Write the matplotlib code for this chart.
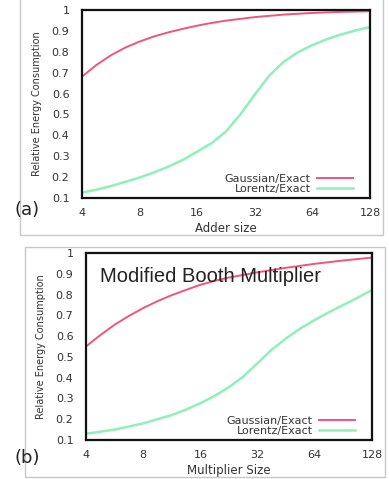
import matplotlib
matplotlib.use("Agg")
import matplotlib.pyplot as plt
from matplotlib.patches import Rectangle

# values, about quarter-octave steps
adder_gauss_x = [4, 4.76, 5.66, 6.73, 8, 9.5, 11.3, 13.5, 16, 19, 22.6, 32, 45.3, 64, 90.5, 128]
adder_gauss = [0.681, 0.737, 0.783, 0.82, 0.849, 0.873, 0.893, 0.91, 0.925, 0.938,
               0.949, 0.966, 0.978, 0.986, 0.991, 0.994]
adder_lorentz_x = [4, 4.76, 5.66, 6.73, 8, 9.5, 11.3, 13.5, 16, 19, 22.6, 26.9, 32,
                   38, 45.3, 53.8, 64, 76, 90.5, 107.6, 128]
adder_lorentz = [0.125, 0.14, 0.157, 0.177, 0.198, 0.222, 0.25, 0.283, 0.322, 0.362,
                 0.418, 0.5, 0.595, 0.685, 0.752, 0.798, 0.832, 0.86, 0.883, 0.902, 0.918]

mult_gauss_x = [4, 4.76, 5.66, 6.73, 8, 9.5, 11.3, 13.5, 16, 19, 22.6, 32, 45.3, 64, 90.5, 128]
mult_gauss = [0.55, 0.605, 0.655, 0.697, 0.735, 0.768, 0.797, 0.823, 0.847, 0.866, 0.882,
              0.907, 0.929, 0.948, 0.964, 0.978]
mult_lorentz_x = [4, 5.66, 8, 11.3, 13.5, 16, 19, 22.6, 26.9, 32, 38, 45.3, 53.8, 64,
                  76, 90.5, 107.6, 128]
mult_lorentz = [0.13, 0.15, 0.18, 0.22, 0.247, 0.277, 0.312, 0.354, 0.405, 0.47,
                0.535, 0.59, 0.637, 0.678, 0.715, 0.75, 0.785, 0.822]

xticks = [4, 8, 16, 32, 64, 128]
yticks = [0.1, 0.2, 0.3, 0.4, 0.5, 0.6, 0.7, 0.8, 0.9, 1]
ytick_labels = ['0.1', '0.2', '0.3', '0.4', '0.5', '0.6', '0.7', '0.8', '0.9', '1']

RED = '#f0557a'
GREEN = '#8ff0b8'
TXT = '#333333'

W, H = 389, 479
fig = plt.figure(figsize=(W / 100, H / 100), dpi=100)
fig.patch.set_facecolor('white')


def box(l, t, r, b):
    # rectangle from pixel coords
    return [l / W, 1 - b / H, (r - l) / W, (b - t) / H]


# light gray panel frames
for l, t, r, b in [(20, -2, 383, 235), (25, 247, 385, 477)]:
    fig.add_artist(Rectangle((l / W, 1 - b / H), (r - l) / W, (b - t) / H,
                             transform=fig.transFigure, fill=False,
                             edgecolor='#c8c8c8', lw=1))


def panel(rect, gx, g, lx, lz, xlabel, tag, tag_y):
    ax = fig.add_axes(rect)
    ax.plot(gx, g, color=RED, lw=1.4, label='Gaussian/Exact')
    ax.plot(lx, lz, color=GREEN, lw=1.8, label='Lorentz/Exact')
    ax.set_xscale('log', base=2)
    ax.set_xlim(4, 128)
    ax.set_ylim(0.1, 1)
    ax.set_xticks(xticks)
    ax.set_xticklabels([str(v) for v in xticks])
    ax.set_yticks(yticks)
    ax.set_yticklabels(ytick_labels)
    ax.minorticks_off()
    ax.tick_params(length=0, labelsize=8, colors=TXT, pad=7)
    ax.tick_params(axis='y', pad=9)
    for s in ax.spines.values():
        s.set_linewidth(1.6)
        s.set_color('#111111')
    ax.set_xlabel(xlabel, fontsize=8.5, color=TXT, labelpad=3)
    ax.set_ylabel('Relative Energy Consumption', fontsize=7, color=TXT, labelpad=7)
    leg = ax.legend(loc='lower right', frameon=False, markerfirst=False,
                    fontsize=8, handlelength=3.2, labelspacing=0.05,
                    borderaxespad=0.1, handletextpad=0.6,
                    bbox_to_anchor=(0.96, -0.01))
    for t in leg.get_texts():
        t.set_color(TXT)
    fig.text(15 / W, 1 - tag_y / H, tag, fontsize=13, color='#222222',
             va='center', ha='left')
    return ax


panel(box(82, 10, 370, 198), adder_gauss_x, adder_gauss, adder_lorentz_x, adder_lorentz,
      'Adder size', '(a)', 210)
axb = panel(box(86, 253, 372, 440), mult_gauss_x, mult_gauss, mult_lorentz_x, mult_lorentz,
            'Multiplier Size', '(b)', 458)
axb.text(0.05, 0.875, 'Modified Booth Multiplier', transform=axb.transAxes,
         fontsize=14.5, color='#222222', family='Liberation Sans', va='center')

fig.savefig('out.png', dpi=100)
